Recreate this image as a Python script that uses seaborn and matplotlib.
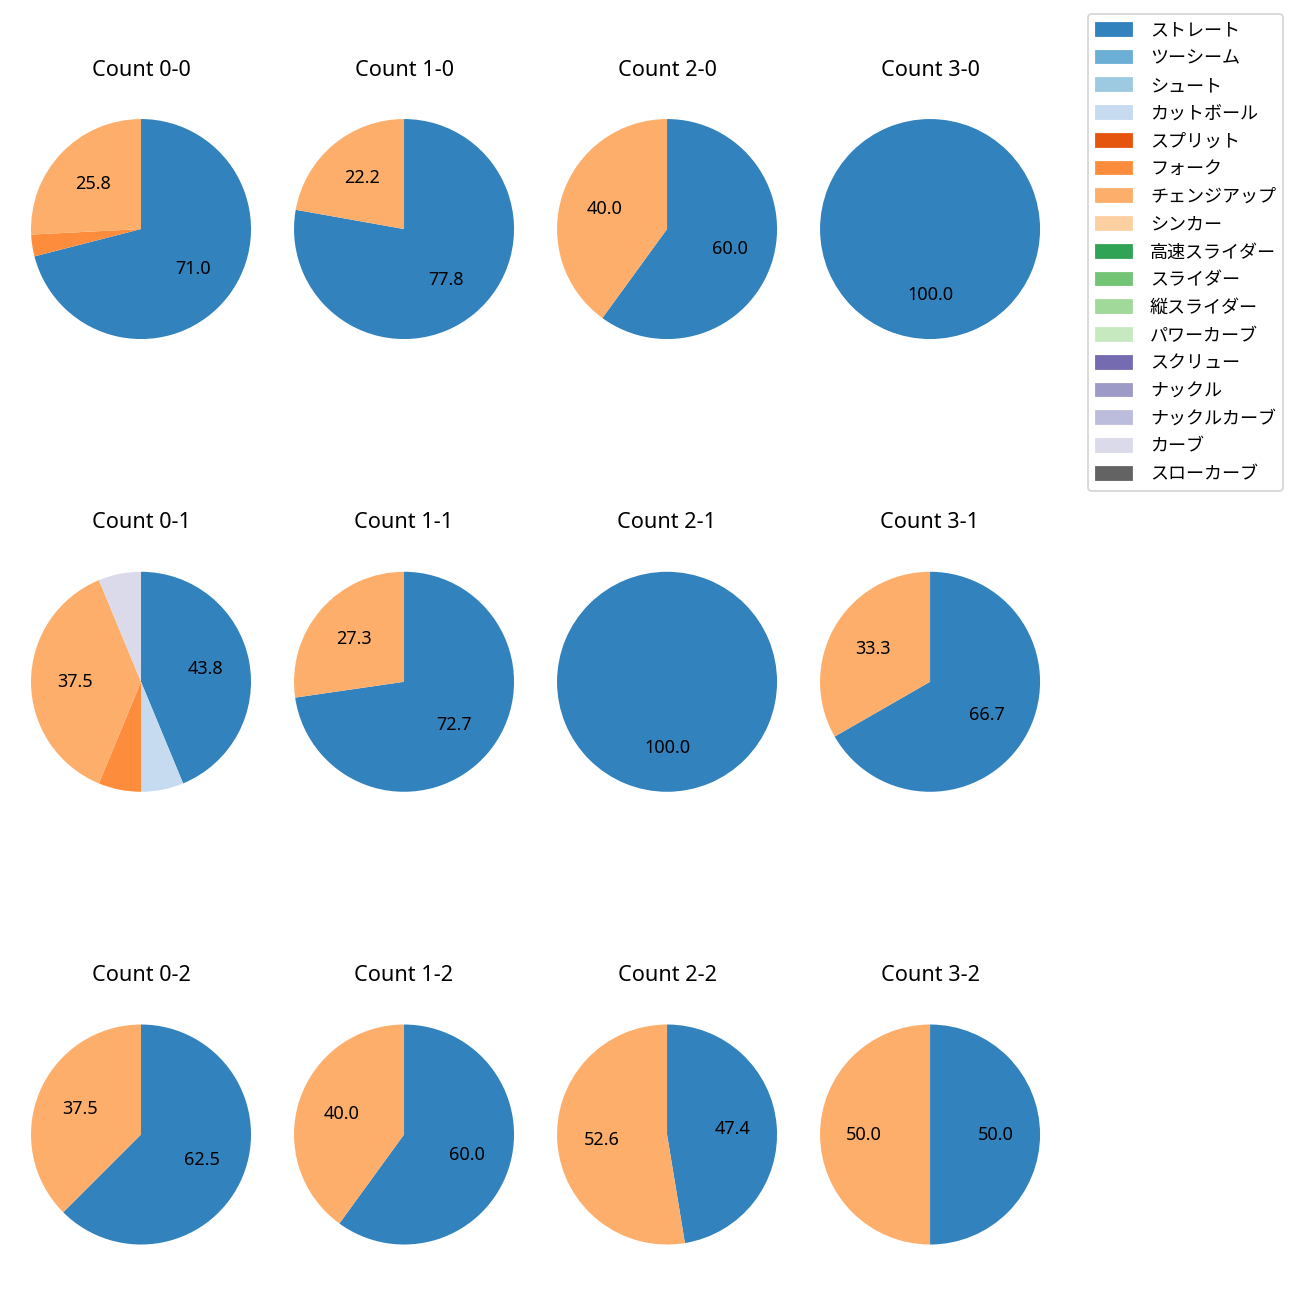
import matplotlib
matplotlib.use("Agg")
import matplotlib.pyplot as plt
import matplotlib.patches as mpatches
import seaborn as sns

# 球種 (legend order = colour order)
pitch_types = [
    "ストレート", "ツーシーム", "シュート", "カットボール", "スプリット",
    "フォーク", "チェンジアップ", "シンカー", "高速スライダー", "スライダー",
    "縦スライダー", "パワーカーブ", "スクリュー", "ナックル", "ナックルカーブ",
    "カーブ", "スローカーブ",
]

# ball-strike counts, row = strikes, col = balls
count_labels = [
    "0-0", "1-0", "2-0", "3-0",
    "0-1", "1-1", "2-1", "3-1",
    "0-2", "1-2", "2-2", "3-2",
]

# share (%) per pitch type for each count
share_0_0 = {"ストレート": 71.0, "フォーク": 3.2, "チェンジアップ": 25.8}
share_1_0 = {"ストレート": 77.8, "チェンジアップ": 22.2}
share_2_0 = {"ストレート": 60.0, "チェンジアップ": 40.0}
share_3_0 = {"ストレート": 100.0}
share_0_1 = {"ストレート": 43.75, "カットボール": 6.25, "フォーク": 6.25,
             "チェンジアップ": 37.5, "カーブ": 6.25}
share_1_1 = {"ストレート": 72.7, "チェンジアップ": 27.3}
share_2_1 = {"ストレート": 100.0}
share_3_1 = {"ストレート": 66.7, "チェンジアップ": 33.3}
share_0_2 = {"ストレート": 62.5, "チェンジアップ": 37.5}
share_1_2 = {"ストレート": 60.0, "チェンジアップ": 40.0}
share_2_2 = {"ストレート": 47.4, "チェンジアップ": 52.6}
share_3_2 = {"ストレート": 50.0, "チェンジアップ": 50.0}

shares = [
    share_0_0, share_1_0, share_2_0, share_3_0,
    share_0_1, share_1_1, share_2_1, share_3_1,
    share_0_2, share_1_2, share_2_2, share_3_2,
]


def pct_label(pct):
    # small slices stay unlabeled
    return f"{pct:.1f}" if pct >= 10 else ""


def main():
    plt.rcParams["font.family"] = ["Noto Sans", "Noto Sans CJK JP", "DejaVu Sans"]

    palette = sns.color_palette("tab20c", 20)
    colors = dict(zip(pitch_types, palette[:17]))

    fig, axes = plt.subplots(3, 4, figsize=(10, 10), dpi=130)
    fig.subplots_adjust(left=0.0027, right=0.8212, top=0.9296, bottom=0.0215,
                        wspace=-0.0436, hspace=0.646)

    for ax, label, share in zip(axes.flat, count_labels, shares):
        names = [p for p in pitch_types if share.get(p, 0) > 0]
        values = [share[p] for p in names]
        ax.pie(values, colors=[colors[p] for p in names], startangle=90,
               counterclock=False, autopct=pct_label,
               textprops={"fontsize": 10})
        ax.set_title(f"Count {label}", fontsize=12, pad=8.8)

    handles = [mpatches.Patch(color=colors[p], label=p) for p in pitch_types]
    fig.legend(handles=handles, loc="upper right",
               bbox_to_anchor=(0.987, 0.989), borderaxespad=0, fontsize=10,
               handletextpad=1.0, labelspacing=0.54)

    fig.savefig("out.png", dpi=130)


if __name__ == "__main__":
    main()
